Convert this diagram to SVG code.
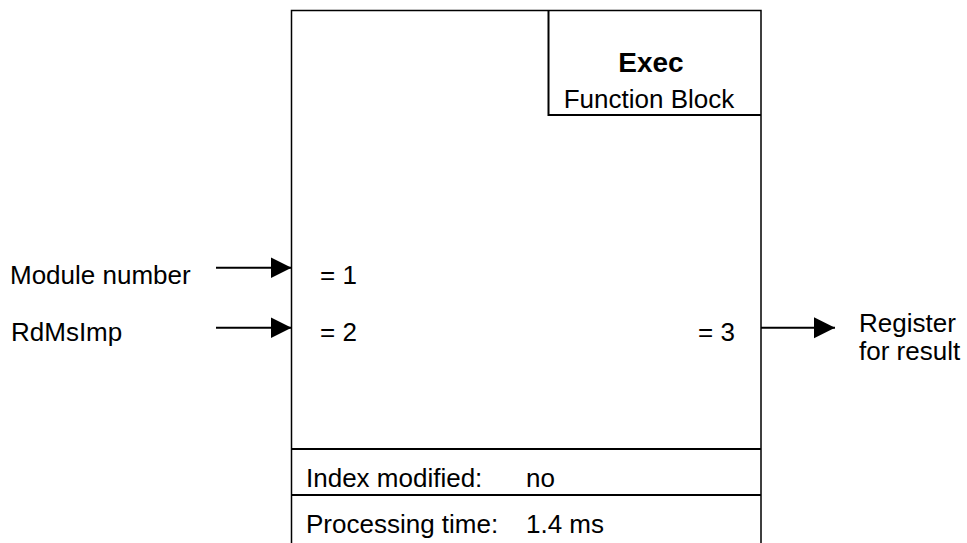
<svg xmlns="http://www.w3.org/2000/svg" width="967" height="543" viewBox="0 0 967 543">
<style>
text{font-family:"Liberation Sans",Arial,sans-serif;font-size:26px;fill:#000}
.b{font-weight:bold;font-size:28px}
.box{fill:none;stroke:#000;stroke-width:1.5}
.sep{fill:none;stroke:#000;stroke-width:2}
.con{stroke:#000;stroke-width:2;fill:none}
</style>
<defs>
<marker id="ah" markerUnits="userSpaceOnUse" markerWidth="22" markerHeight="22" refX="21" refY="11" orient="auto">
<path d="M0,0.5 L21,11 L0,21.5 Z" fill="#000"/>
</marker>
</defs>
<rect width="967" height="543" fill="#fff"/>
<g id="block">
<path class="box" d="M291.5,545 V10.5 H761 V545"/>
<path class="sep" d="M548.5,10.5 V115 H761"/>
<line class="sep" x1="291.5" y1="449" x2="761" y2="449"/>
<line class="sep" x1="291.5" y1="495" x2="761" y2="495"/>
<text class="b" x="651" y="72" text-anchor="middle">Exec</text>
<text x="649" y="108" text-anchor="middle">Function Block</text>
<text x="320" y="284">= 1</text>
<text x="320" y="341">= 2</text>
<text x="698" y="341">= 3</text>
<text x="306" y="487">Index modified:</text>
<text x="526" y="487">no</text>
<text x="306" y="533">Processing time:</text>
<text x="526" y="533">1.4 ms</text>
</g>
<g id="in1">
<text x="10" y="284">Module number</text>
</g>
<g id="in2">
<text x="11" y="341">RdMsImp</text>
</g>
<g id="out">
<text x="859" y="332">Register</text>
<text x="859" y="360">for result</text>
</g>
<g id="connectors">
<line class="con" x1="216" y1="267.7" x2="291.5" y2="267.7" marker-end="url(#ah)"/>
<line class="con" x1="216" y1="327.7" x2="291.5" y2="327.7" marker-end="url(#ah)"/>
<line class="con" x1="761" y1="327.7" x2="835" y2="327.7" marker-end="url(#ah)"/>
</g>
</svg>
